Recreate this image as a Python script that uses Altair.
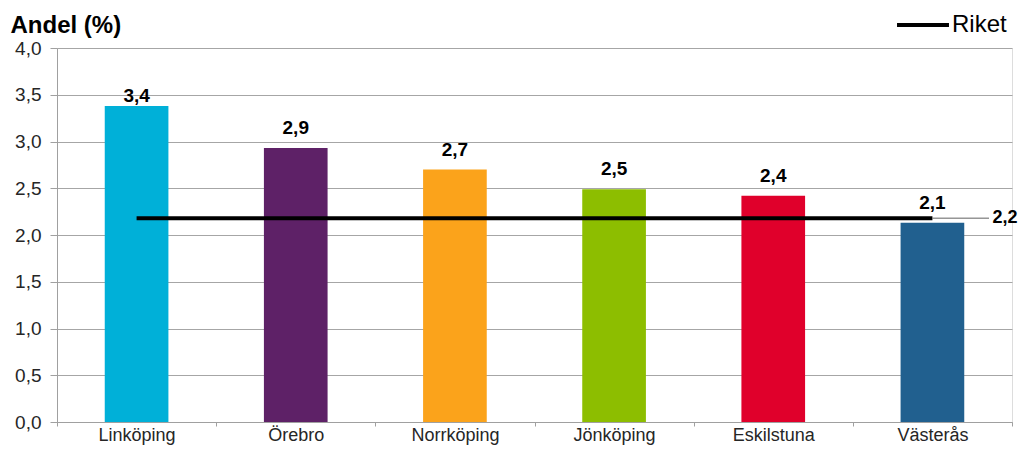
import altair as alt
import pandas as pd

kommuner = ["Linköping", "Örebro", "Norrköping", "Jönköping", "Eskilstuna", "Västerås"]
andel = [3.38, 2.93, 2.70, 2.49, 2.42, 2.13]
farger = ["#00B0D8", "#5E2167", "#FBA31B", "#8DBE00", "#E0002B", "#21608F"]
riket = 2.18

bars_df = pd.DataFrame({"kommun": kommuner, "andel": andel, "farg": farger})
riket_df = pd.DataFrame({"start": [kommuner[0]], "slut": [kommuner[-1]], "andel": [riket], "serie": ["Riket"]})

FONT = "Liberation Sans"
lblexpr = "replace(format(datum.value, '.1f'), '.', ',')"
LBL = "replace(format(datum.andel, '.1f'), '.', ',')"

x_enc = alt.X(
    "kommun:N",
    sort=kommuner,
    scale=alt.Scale(domain=kommuner, paddingInner=0, paddingOuter=0),
    axis=alt.Axis(
        title=None, labelAngle=0, labelFontSize=18, labelColor="#262626", labelFont=FONT,
        tickBand="extent", tickSize=4, tickColor="#A0A0A0", domainColor="#A0A0A0",
        labelPadding=0, grid=False, labelBaseline="top",
    ),
)
y_scale = alt.Scale(domain=[0, 4], nice=False)

bars = alt.Chart(bars_df).mark_bar(width=alt.RelativeBandSize(0.4)).encode(
    x=x_enc,
    y=alt.Y(
        "andel:Q",
        scale=y_scale,
        axis=alt.Axis(
            values=[0, 0.5, 1, 1.5, 2, 2.5, 3, 3.5, 4], labelExpr=lblexpr,
            labelFontSize=19, labelColor="#262626", labelFont=FONT,
            tickSize=7, tickColor="#A0A0A0", domainColor="#A0A0A0",
            gridColor="#A6A6A6", gridWidth=1, labelPadding=9,
            title="Andel (%)", titleAngle=0, titleAlign="left", titleBaseline="alphabetic",
            titleX=-47, titleY=-16, titleFontSize=24, titleFont=FONT, titleFontWeight="bold",
            titleColor="#000000",
        ),
    ),
    color=alt.Color("farg:N", scale=None),
)

def bar_label_layer(filter_expr, dy):
    return alt.Chart(bars_df).transform_filter(filter_expr).transform_calculate(lbl=LBL).mark_text(
        baseline="alphabetic", dy=dy, fontSize=19, fontWeight="bold", font=FONT, color="#000000"
    ).encode(
        x=alt.X("kommun:N", sort=kommuner),
        y=alt.Y("andel:Q"),
        text="lbl:N",
    )

bar_labels_top = bar_label_layer("datum.andel > 3.2", -4)
bar_labels = bar_label_layer("datum.andel <= 3.2", -14)

riket_line = alt.Chart(riket_df).mark_rule(strokeWidth=4, strokeCap="butt").encode(
    x=alt.X("start:N", sort=kommuner),
    x2="slut:N",
    y="andel:Q",
    stroke=alt.Stroke(
        "serie:N",
        scale=alt.Scale(range=["#000000"]),
        legend=alt.Legend(
            orient="none", legendX=838, legendY=-51, title=None,
            symbolType="stroke", symbolSize=2700, symbolStrokeWidth=4,
            labelFontSize=24, labelFont=FONT, labelColor="#000000", labelOffset=1,
        ),
    ),
)

leader = alt.Chart(riket_df).mark_rule(strokeWidth=1, color="#606060").encode(
    x=alt.X("slut:N", sort=kommuner),
    x2=alt.value(932),
    y="andel:Q",
)

riket_label = alt.Chart(riket_df).transform_calculate(lbl=LBL).mark_text(
    align="left", baseline="middle", dx=60, fontSize=18, fontWeight="bold", font=FONT, color="#000000"
).encode(
    x=alt.X("slut:N", sort=kommuner),
    y="andel:Q",
    text="lbl:N",
)

chart = alt.layer(bars, bar_labels_top, bar_labels, riket_line, leader, riket_label).properties(
    width=955, height=374,
    autosize=alt.AutoSizeParams(type="none"),
    padding={"left": 49, "top": 40, "right": 6, "bottom": 24},
).configure_view(stroke=None).configure(background="white")

chart.save("out.html", embed_options={"renderer": "svg", "actions": False})
